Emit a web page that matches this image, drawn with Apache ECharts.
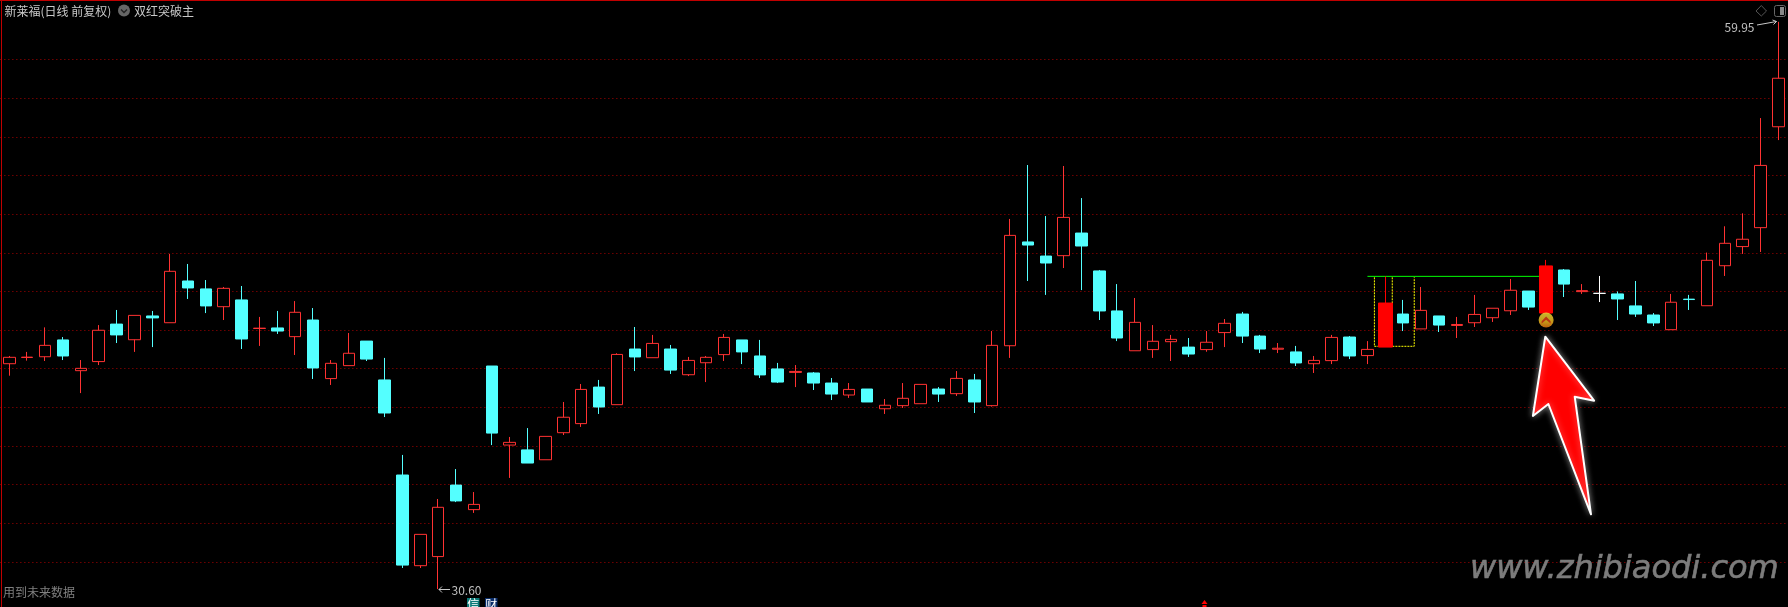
<!DOCTYPE html>
<html>
<head>
<meta charset="utf-8">
<style>html,body{margin:0;padding:0;background:#000;overflow:hidden}#c{width:1788px;height:607px}</style>
<script src="https://cdn.jsdelivr.net/npm/echarts@6/dist/echarts.min.js"></script>
</head>
<body>
<div id="c"></div>
<script>
const opens = [42.26,42.58,42.62,43.49,41.90,42.37,44.31,43.50,44.73,44.38,46.54,46.13,45.21,45.56,44.08,44.11,43.66,44.52,41.49,42.16,43.43,41.42,36.50,31.81,32.28,35.98,34.71,42.14,38.05,37.80,37.29,38.69,39.16,41.05,40.14,43.02,42.57,43.02,41.69,42.31,42.73,43.49,42.66,41.99,41.81,41.78,41.26,40.64,40.95,39.93,40.09,40.19,40.95,40.71,41.42,40.09,43.19,48.56,47.83,47.85,49.02,47.06,44.99,42.93,42.99,43.40,43.12,42.99,43.87,44.83,43.69,43.01,42.87,42.26,42.42,43.64,42.68,43.12,44.83,44.06,44.73,44.24,44.38,44.64,45.00,46.02,44.88,47.11,45.99,45.90,45.87,45.25,44.78,44.02,45.60,45.26,47.33,48.32,49.30,54.52];
const closes = [42.59,42.60,43.21,42.66,42.02,43.99,43.75,44.76,44.63,47.04,46.18,45.25,46.16,43.54,44.10,43.95,44.92,42.04,42.28,42.80,42.50,39.71,31.84,33.43,34.83,35.16,34.98,38.67,38.19,37.12,38.50,39.49,40.93,40.02,42.74,42.61,43.31,41.93,42.43,42.59,43.62,42.87,41.68,41.31,41.86,41.26,40.69,40.93,40.28,40.11,40.47,41.19,40.69,41.50,40.28,43.21,48.90,48.40,47.47,49.83,48.35,44.99,43.59,44.40,43.42,43.52,42.76,43.37,44.35,43.69,43.02,43.06,42.30,42.43,43.62,42.66,43.00,45.40,44.37,45.02,44.26,44.29,44.81,45.13,46.06,45.19,47.32,46.38,46.04,45.90,45.61,44.83,44.37,45.44,45.58,47.61,48.49,48.70,52.52,57.03];
const lows = [41.64,42.42,42.40,42.45,40.74,42.19,43.33,42.87,43.12,44.38,45.61,44.88,44.52,43.02,43.18,43.80,42.71,41.47,41.16,42.16,42.40,39.50,31.69,31.69,30.60,35.10,34.54,38.05,36.35,37.12,37.29,38.57,38.99,39.66,40.14,41.88,42.57,41.73,41.62,41.31,42.40,42.24,41.52,41.26,41.05,40.90,40.38,40.49,40.28,39.66,39.97,40.19,40.28,40.59,39.71,40.04,42.56,46.54,45.82,47.21,46.07,44.52,43.43,42.93,42.56,42.40,42.61,42.88,43.12,43.33,42.81,42.81,42.14,41.78,42.24,42.50,42.24,43.12,43.95,44.06,43.90,43.59,44.16,44.42,44.78,45.04,44.88,45.71,45.87,45.45,44.52,44.68,44.21,44.02,45.04,45.26,46.80,47.94,48.04,53.83];
const highs = [42.66,42.87,44.14,43.64,42.45,44.26,45.04,44.76,44.99,47.94,47.42,46.59,46.23,46.28,44.68,44.99,45.50,45.14,42.45,43.85,43.43,42.56,37.54,33.43,35.26,36.81,35.62,42.14,38.47,38.93,38.50,40.28,41.21,41.42,42.80,44.16,43.75,43.23,42.61,42.66,43.80,43.49,43.49,42.30,42.19,41.83,41.52,41.26,40.95,40.43,41.26,41.19,41.05,41.88,41.73,43.95,49.75,52.54,49.90,52.49,50.83,47.11,46.38,45.66,44.26,43.75,43.59,43.95,44.57,44.94,43.75,43.33,43.18,42.66,43.75,43.69,43.43,46.78,45.56,46.23,44.73,44.68,45.82,45.13,46.64,46.02,47.63,47.16,46.38,46.80,46.00,46.54,44.88,45.87,45.82,48.01,49.37,50.04,54.97,59.95];
const categories = opens.map((_, i) => String(i));
const solidRedDays = [77, 86];           // the two filled "double red" candles
const breakoutLine = [[76, 46.78], [86, 46.78]];
const boxOutline = [[76.39, 46.73], [76.39, 43.16], [78.62, 43.16], [78.62, 46.73]];
const boxDivider = [[77.39, 46.73], [77.39, 45.40]];
const signalPoint = [[86, 44.52]];
const axisMin = 32, axisMax = 58, axisStep = 2;
const titleText = '新莱福(日线 前复权)', indicatorText = '双红突破主', warnText = '用到未来数据';
const highText = '59.95', lowText = '30.60', siteText = 'www.zhibiaodi.com';

const RED = '#ff3232', CYAN = '#54ffff';
const ohlc = i => [opens[i], closes[i], lows[i], highs[i]];
const mainData = categories.map((_, i) => solidRedDays.includes(i) ? '-' : ohlc(i));
const solidData = categories.map((_, i) => solidRedDays.includes(i) ? ohlc(i) : '-');
const font = '"Noto Sans CJK SC","Noto Sans",sans-serif';
const txt = (x, y, text, size, fill, extra) => ({
  type: 'text', x, y, silent: true, z: 50,
  style: Object.assign({ text, font: size + 'px ' + font, fill, textVerticalAlign: 'middle' }, extra || {})
});
const chart = echarts.init(document.getElementById('c'), null, { renderer: 'canvas' });
chart.setOption({
  animation: false,
  backgroundColor: '#000',
  grid: { left: 0.37, width: 1787, top: 59.5, height: 502.5 },
  xAxis: [
    { type: 'category', data: categories, show: false, boundaryGap: true },
    { type: 'value', min: -0.5, max: 99.5, show: false }
  ],
  yAxis: {
    type: 'value', min: axisMin, max: axisMax, interval: axisStep, scale: true,
    axisLine: { show: false }, axisTick: { show: false }, axisLabel: { show: false },
    splitLine: { show: true, lineStyle: { color: '#a80000', width: 1, type: [1, 3] } }
  },
  series: [
    { type: 'line', xAxisIndex: 1, data: boxOutline, symbol: 'none', clip: false, z: 2, silent: true,
      lineStyle: { color: '#ffff00', width: 1, type: [2, 1] } },
    { type: 'line', xAxisIndex: 1, data: boxDivider, symbol: 'none', clip: false, z: 2, silent: true,
      lineStyle: { color: '#ffff00', width: 1, type: [2, 1] } },
    { type: 'line', xAxisIndex: 1, data: breakoutLine, symbol: 'none', clip: false, z: 2, silent: true,
      lineStyle: { color: '#00ff00', width: 1 } },
    { type: 'candlestick', data: mainData, barWidth: 12, clip: false, silent: true, z: 3,
      itemStyle: { color: '#000', color0: CYAN, borderColor: RED, borderColor0: CYAN, borderColorDoji: '#ffffff', borderWidth: 1 } },
    { type: 'candlestick', data: solidData, barWidth: 14, clip: false, silent: true, z: 4,
      itemStyle: { color: '#ff0000', color0: '#ff0000', borderColor: '#ff0000', borderColor0: '#ff0000', borderWidth: 1 } },
    { type: 'scatter', xAxisIndex: 1, data: signalPoint, symbol: 'circle', symbolSize: 15, clip: false, silent: true, z: 5,
      itemStyle: { color: new echarts.graphic.LinearGradient(0, 0, 0, 1, [
        { offset: 0, color: '#f7e63a' }, { offset: 0.6, color: '#f5c020' }, { offset: 1, color: '#ee7a10' }]) } },
    { type: 'scatter', xAxisIndex: 1, data: signalPoint, symbol: 'path://M0 6 L5 0 L10 6 L10 9 L5 4 L0 9 Z', symbolSize: [9, 7], clip: false, silent: true, z: 6,
      itemStyle: { color: '#b81a10' } }
  ],
  graphic: { elements: [
    { type: 'rect', silent: true, z: 40, shape: { x: 0, y: 0, width: 1788, height: 1 }, style: { fill: '#c00000' } },
    { type: 'rect', silent: true, z: 40, shape: { x: 1, y: 0, width: 1, height: 607 }, style: { fill: '#c00000' } },
    txt(4.5, 11, titleText, 12, '#c8c8c8'),
    { type: 'circle', silent: true, z: 50, shape: { cx: 124, cy: 10.5, r: 6 }, style: { fill: '#666' } },
    { type: 'polyline', silent: true, z: 51, shape: { points: [[121, 9.5], [124, 12.5], [127, 9.5]] }, style: { stroke: '#222', lineWidth: 1.4, fill: null } },
    txt(134, 11, indicatorText, 12, '#c8c8c8'),
    txt(3, 592, warnText, 12, '#808080'),
    // top-right tool icons
    { type: 'polygon', silent: true, z: 50, shape: { points: [[1761.3, 5.5], [1766.5, 11], [1761.3, 16], [1756, 11]] }, style: { fill: null, stroke: '#555', lineWidth: 1 } },
    { type: 'rect', silent: true, z: 50, shape: { x: 1774.5, y: 5.5, width: 11, height: 11, r: 2 }, style: { fill: null, stroke: '#666', lineWidth: 1 } },
    { type: 'rect', silent: true, z: 50, shape: { x: 1780, y: 7, width: 4, height: 8 }, style: { fill: '#888' } },
    // extreme labels
    txt(1724.5, 27, highText, 12, '#c0c0c0'),
    { type: 'polyline', silent: true, z: 50, shape: { points: [[1757, 25], [1776.5, 21.5]] }, style: { stroke: '#c8c8c8', lineWidth: 1, fill: null } },
    { type: 'polyline', silent: true, z: 50, shape: { points: [[1772.5, 20], [1776.5, 21.5], [1773.5, 24.5]] }, style: { stroke: '#c8c8c8', lineWidth: 1, fill: null } },
    { type: 'polyline', silent: true, z: 50, shape: { points: [[450, 589.5], [439, 589.5]] }, style: { stroke: '#c8c8c8', lineWidth: 1, fill: null } },
    { type: 'polyline', silent: true, z: 50, shape: { points: [[442, 586.5], [439, 589.5], [442, 592.5]] }, style: { stroke: '#c8c8c8', lineWidth: 1, fill: null } },
    txt(451.5, 590.5, lowText, 12, '#c0c0c0'),
    // bottom badges
    { type: 'rect', silent: true, z: 50, shape: { x: 467, y: 598, width: 12.5, height: 9 }, style: { fill: '#0b7a78' } },
    txt(467.3, 604, '信', 12, '#ffffff'),
    { type: 'rect', silent: true, z: 50, shape: { x: 485, y: 598, width: 12.5, height: 9 }, style: { fill: '#0a2d6a' } },
    txt(485.3, 604, '财', 12, '#ffffff'),
    { type: 'polygon', silent: true, z: 50, shape: { points: [[1204.5, 600], [1207.5, 604], [1201.5, 604]] }, style: { fill: '#ff0000' } },
    { type: 'rect', silent: true, z: 50, shape: { x: 1202.5, y: 605, width: 4, height: 2 }, style: { fill: '#ff0000' } },
    // annotation arrow
    { type: 'polygon', silent: true, z: 60,
      shape: { points: [[1545.3, 336.7], [1594.1, 400.7], [1574.7, 396.7], [1591, 514.3], [1548.4, 404], [1532.9, 416]] },
      style: { fill: '#ff0000', stroke: '#ffffff', lineWidth: 2, lineJoin: 'round', shadowBlur: 6, shadowColor: 'rgba(255,255,255,0.45)' } },
    // watermark
    { type: 'text', silent: true, z: 60, x: 1470, y: 570,
      style: { text: siteText, font: 'oblique 32px "DejaVu Sans",sans-serif', fill: '#7c7c7c', stroke: '#7c7c7c', lineWidth: 0.6, textVerticalAlign: 'middle',
        shadowBlur: 5, shadowColor: 'rgba(110,110,110,0.6)', shadowOffsetY: 4 } }
  ] }
});
</script>
</body>
</html>
